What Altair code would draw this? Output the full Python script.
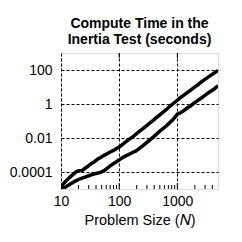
import altair as alt
import pandas as pd

# Problem size N
N = [10, 12, 14, 16, 18, 20, 23, 26, 30, 34, 38, 43, 48, 55, 62, 70, 80, 90,
     100, 115, 130, 150, 170, 195, 220, 250, 290, 330, 380, 430, 500, 570, 650,
     750, 850, 1000, 1150, 1300, 1500, 1700, 1950, 2200, 2550, 2900, 3300, 3800,
     4300, 5000]

# log10 of compute time (seconds)
upper_log = [-4.85, -4.55, -4.32, -4.15, -4.0, -3.93, -3.92, -3.78, -3.62, -3.48,
             -3.38, -3.24, -3.15, -3.02, -2.93, -2.82, -2.73, -2.62, -2.53, -2.38,
             -2.22, -2.07, -1.94, -1.77, -1.62, -1.48, -1.30, -1.14, -0.98, -0.82,
             -0.64, -0.48, -0.32, -0.12, 0.03, 0.22, 0.40, 0.52, 0.68, 0.82, 0.98,
             1.10, 1.28, 1.42, 1.55, 1.70, 1.82, 1.98]
lower_log = [-5.02, -4.88, -4.74, -4.62, -4.52, -4.44, -4.36, -4.30, -4.22, -4.15,
             -4.10, -4.06, -4.02, -3.92, -3.78, -3.64, -3.50, -3.40, -3.29, -3.15,
             -3.05, -2.95, -2.85, -2.76, -2.62, -2.48, -2.30, -2.14, -1.96, -1.80,
             -1.60, -1.44, -1.28, -1.08, -0.90, -0.60, -0.50, -0.38, -0.22, -0.10,
             0.06, 0.18, 0.34, 0.48, 0.62, 0.76, 0.88, 1.08]

x_ticks = [10, 100, 1000]
y_ticks = [0.0001, 0.01, 1, 100]
minor_x = [20, 30, 40, 50, 60, 70, 80, 90, 200, 300, 400, 500, 600, 700, 800,
           900, 2000, 3000, 4000]
major_inner = [100, 1000]

rows = []
for n, u, l in zip(N, upper_log, lower_log):
    rows.append({"N": n, "t": 10 ** u, "series": "upper"})
    rows.append({"N": n, "t": 10 ** l, "series": "lower"})
df = pd.DataFrame(rows)

FONT = "Liberation Sans"
xscale = alt.Scale(type="log", domain=[10, 5000], nice=False)
yscale = alt.Scale(type="log", domain=[1e-5, 1000], nice=False)

x_axis = alt.Axis(values=x_ticks, format="d", grid=True, gridDash=[3, 2],
                  gridColor="black", gridWidth=1, ticks=False, domain=False,
                  labelFont=FONT, labelFontSize=14, labelColor="black",
                  labelPadding=5, titleFont=FONT, titleFontSize=14.5,
                  titleFontWeight="normal", titleColor="black",
                  titlePadding=5, labelFlush=False)
XTITLE = "Problem Size (𝑁)"

lines = alt.Chart(df).mark_line(color="black", strokeWidth=3.5, clip=True).encode(
    x=alt.X("N:Q", scale=xscale, title=XTITLE, axis=x_axis),
    y=alt.Y("t:Q", scale=yscale, title=None,
            axis=alt.Axis(values=y_ticks, format="~f", grid=True, gridDash=[3, 2],
                          gridColor="black", gridWidth=1, ticks=False, domain=False,
                          labelFont=FONT, labelFontSize=14, labelColor="black",
                          labelPadding=9, labelFlush=False)),
    detail="series:N",
)

minor_df = pd.DataFrame({"v": minor_x})
major_df = pd.DataFrame({"v": major_inner})

minor_bottom = alt.Chart(minor_df).mark_rule(color="black", strokeWidth=1).encode(
    x=alt.X("v:Q", scale=xscale, title=XTITLE, axis=x_axis),
    y=alt.value(136), y2=alt.value(132),
)
major_bottom = alt.Chart(major_df).mark_rule(color="black", strokeWidth=1).encode(
    x=alt.X("v:Q", scale=xscale, title=XTITLE, axis=x_axis),
    y=alt.value(136), y2=alt.value(130),
)
major_top = alt.Chart(major_df).mark_rule(color="black", strokeWidth=1).encode(
    x=alt.X("v:Q", scale=xscale, title=XTITLE, axis=x_axis),
    y=alt.value(0), y2=alt.value(5),
)

chart = alt.layer(lines, minor_bottom, major_bottom, major_top).properties(
    width=157, height=136,
    title=alt.TitleParams(["Compute Time in the", "Inertia Test (seconds)"],
                          font=FONT, fontSize=14, fontWeight="bold",
                          lineHeight=16, anchor="middle", color="black", offset=6),
    autosize=alt.AutoSizeParams(type="none"),
    padding={"left": 53, "top": 45, "right": 16, "bottom": 45},
).configure_view(stroke="black", strokeWidth=1.6).configure(background="white")

chart.save("out.html", embed_options={"renderer": "svg", "actions": False})
